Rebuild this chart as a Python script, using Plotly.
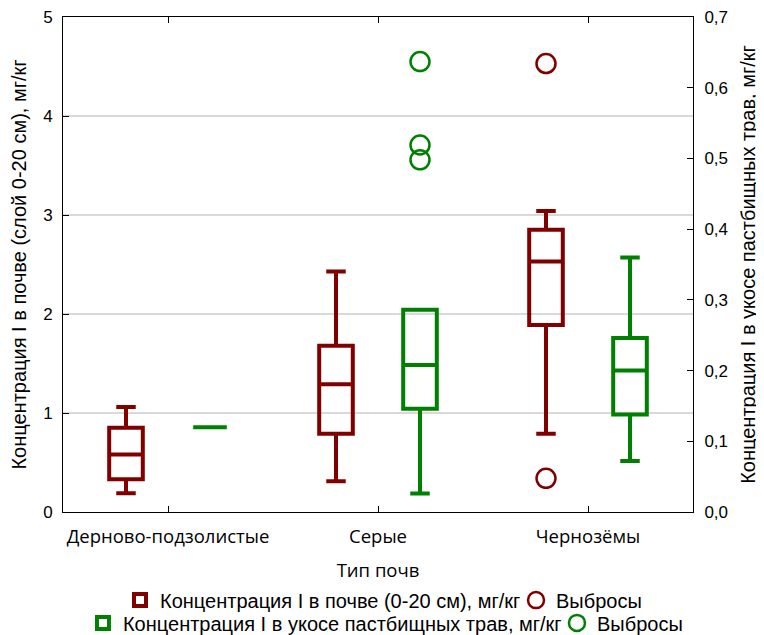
import numpy as np
import plotly.graph_objects as go

categories = ["Дерново-подзолистые", "Серые", "Чернозёмы"]

# Soil concentration (left axis), mg/kg
soil_lower = [0.19, 0.31, 0.79]
soil_q1 = [0.33, 0.79, 1.89]
soil_median = [0.58, 1.29, 2.53]
soil_q3 = [0.85, 1.68, 2.85]
soil_upper = [1.06, 2.43, 3.04]
soil_out_cat = ["Чернозёмы", "Чернозёмы"]
soil_out_val = [4.53, 0.34]

# Grass concentration (right axis), mg/kg
grass_lower = [0.12, 0.026, 0.072]
grass_q1 = [0.12, 0.146, 0.138]
grass_median = [0.12, 0.208, 0.200]
grass_q3 = [0.12, 0.286, 0.246]
grass_upper = [0.12, 0.286, 0.360]
grass_out_cat = ["Серые", "Серые", "Серые"]
grass_out_val = [0.637, 0.519, 0.498]

RED = "#800000"
GREEN = "#008000"
OFF = 0.2
idx = {c: i for i, c in enumerate(categories)}
base = np.arange(len(categories))

fig = go.Figure()
fig.add_trace(go.Box(
    x=base - OFF, q1=soil_q1, median=soil_median, q3=soil_q3,
    lowerfence=soil_lower, upperfence=soil_upper,
    width=0.16, whiskerwidth=0.58, boxpoints=False,
    line=dict(color=RED, width=4), fillcolor="rgba(255,255,255,0)",
    name="Концентрация I в почве (0-20 см), мг/кг", legend="legend",
    legendwidth=351, yaxis="y"))
fig.add_trace(go.Scatter(
    x=[idx[c] - OFF for c in soil_out_cat], y=soil_out_val, mode="markers",
    marker=dict(symbol="circle-open", size=19, color=RED, line=dict(width=2.5)),
    name="Выбросы", legend="legend", yaxis="y"))
fig.add_trace(go.Box(
    x=base + OFF, q1=grass_q1, median=grass_median, q3=grass_q3,
    lowerfence=grass_lower, upperfence=grass_upper,
    width=0.16, whiskerwidth=0.58, boxpoints=False,
    line=dict(color=GREEN, width=4), fillcolor="rgba(255,255,255,0)",
    name="Концентрация I в укосе пастбищных трав, мг/кг", legend="legend2",
    legendwidth=429, yaxis="y2"))
fig.add_trace(go.Scatter(
    x=[idx[c] + OFF for c in grass_out_cat], y=grass_out_val, mode="markers",
    marker=dict(symbol="circle-open", size=19, color=GREEN, line=dict(width=2.5)),
    name="Выбросы", legend="legend2", yaxis="y2"))

FONT = "Liberation Sans, Arial, sans-serif"
CAT_FONT = "Open Sans, sans-serif"
fig.update_layout(
    width=764, height=635,
    margin=dict(l=55, r=79, t=9, b=131, autoexpand=False),
    paper_bgcolor="white", plot_bgcolor="white",
    font=dict(family=FONT, size=17, color="black"),
    separators=", ",
    showlegend=True,
    xaxis=dict(range=[-0.5, 2.5], tickvals=list(base), ticktext=categories,
               tickfont=dict(family=CAT_FONT, size=18.5),
               ticks="inside", ticklen=6, tickcolor="black", ticklabelstandoff=8,
               showline=True, linecolor="black", linewidth=1, mirror="ticks",
               showgrid=False, zeroline=False,
               title=dict(text="Тип почв", font=dict(family=CAT_FONT, size=18.5),
                          standoff=16)),
    yaxis=dict(range=[0, 5], dtick=1, ticks="inside", ticklen=6, tickcolor="black",
               ticklabelstandoff=6, ticklabeloverflow="allow",
               showline=True, linecolor="black", linewidth=1, mirror=True,
               showgrid=True, gridcolor="#d9d9d9", gridwidth=1.5, zeroline=False,
               title=dict(text="Концентрация I в почве (слой 0-20 см), мг/кг",
                          standoff=14)),
    yaxis2=dict(range=[0, 0.7], dtick=0.1, tickformat=".1f", overlaying="y", side="right",
                ticks="inside", ticklen=6, tickcolor="black", ticklabelstandoff=7,
                ticklabeloverflow="allow",
                showline=True, linecolor="black", linewidth=1,
                showgrid=False, zeroline=False,
                title=dict(text="Концентрация I в укосе пастбищных трав, мг/кг",
                           standoff=13)),
    legend=dict(orientation="h", x=0.0905, xanchor="left", y=-0.178, yanchor="middle",
                bgcolor="rgba(0,0,0,0)", font=dict(size=20), itemwidth=30,
                tracegroupgap=0),
    legend2=dict(orientation="h", x=0.0317, xanchor="left", y=-0.224, yanchor="middle",
                 bgcolor="rgba(0,0,0,0)", font=dict(size=20), itemwidth=30,
                 tracegroupgap=0),
)

fig.write_html("out.html")
